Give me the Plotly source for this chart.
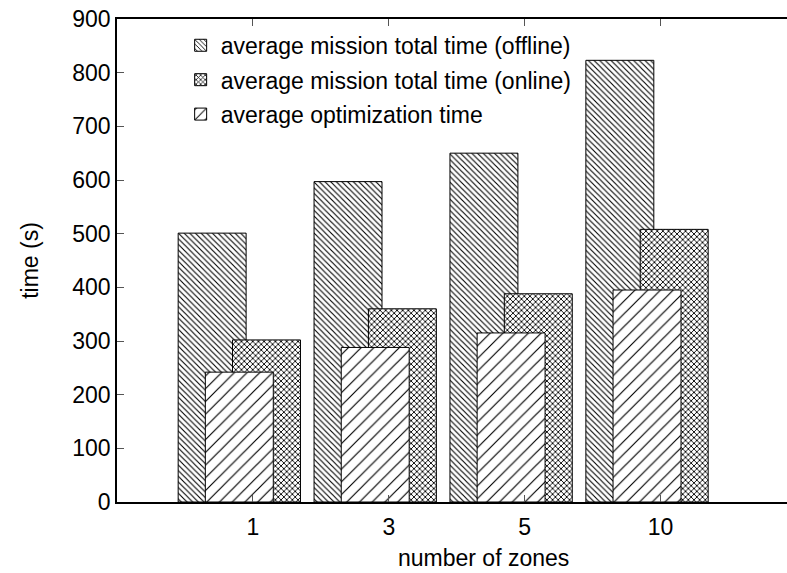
import plotly.graph_objects as go

categories = ["1", "3", "5", "10"]
offline = [501, 597, 650, 823]
online = [302, 360, 388, 508]
optimization = [242, 288, 315, 395]
series_names = [
    "average mission total time (offline)",
    "average mission total time (online)",
    "average optimization time",
]
y_ticks = [0, 100, 200, 300, 400, 500, 600, 700, 800, 900]

FONT = "Liberation Sans, Arial, Helvetica, sans-serif"
xpos = list(range(len(categories)))

fig = go.Figure()

def add_bar(vals, name, shape, size, solidity, offset, group):
    fig.add_trace(go.Bar(
        x=xpos, y=vals, name=name, width=0.5, offset=offset,
        legendgroup=group,
        marker=dict(
            color="white",
            line=dict(color="black", width=1),
            pattern=dict(shape=shape, size=size, solidity=solidity,
                         fgcolor="black", bgcolor="white", fillmode="replace"),
        ),
    ))

add_bar(offline, series_names[0], "\\", 4, 0.28, -0.55, "a")
add_bar(online, series_names[1], "x", 4, 0.4, -0.15, "b")
add_bar(optimization, series_names[2], "/", 9, 0.13, -0.35, "c")

fig.update_layout(
    width=787, height=573,
    margin=dict(l=117, r=0, t=19, b=71),
    paper_bgcolor="white", plot_bgcolor="white",
    barmode="overlay",
    font=dict(family=FONT, size=23, color="black"),
    showlegend=True,
    legend=dict(x=0.095, y=0.99, xanchor="left", yanchor="top",
                bgcolor="rgba(0,0,0,0)", font=dict(size=23),
                tracegroupgap=1.5, traceorder="grouped"),
    xaxis=dict(
        range=[-1, 3.93], tickmode="array", tickvals=xpos, ticktext=categories,
        showline=True, linecolor="black", linewidth=1.5, mirror="ticks",
        ticks="inside", ticklen=7, tickcolor="#555", showgrid=False, zeroline=False,
        tickfont=dict(size=23), ticklabelstandoff=4,
    ),
    yaxis=dict(
        range=[0, 900], tickmode="array", tickvals=y_ticks,
        showline=True, linecolor="black", linewidth=1.5,
        ticks="inside", ticklen=7, tickcolor="#555", showgrid=False, zeroline=False,
        tickfont=dict(size=23), ticklabeloverflow="allow",
        title=dict(text="time (s)", font=dict(size=23), standoff=27),
    ),
    annotations=[dict(
        text="number of zones", x=1.70, xref="x", y=-0.115, yref="paper",
        xanchor="center", yanchor="middle", showarrow=False, font=dict(size=23),
    )],
)

fig.write_html(
    "out.html",
    config={"displayModeBar": False},
    post_script="document.body.style.margin='0';document.body.style.overflow='hidden';",
)
